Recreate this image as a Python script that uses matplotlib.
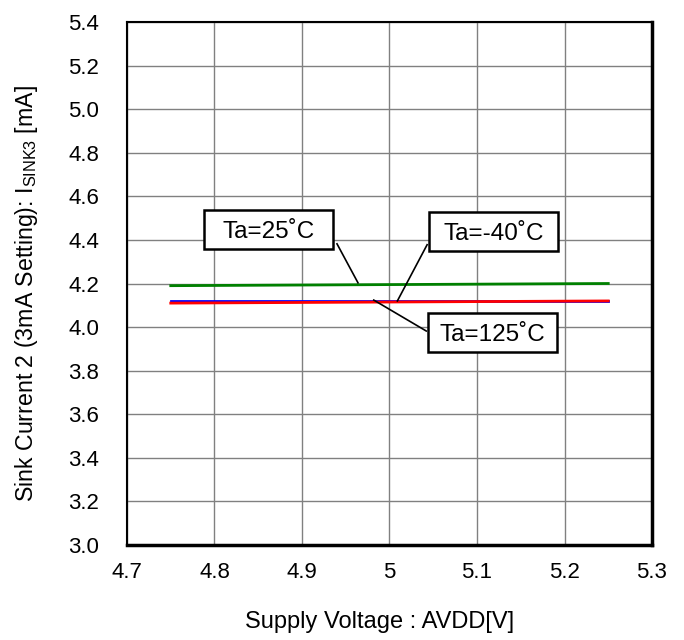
import matplotlib
matplotlib.use("Agg")
import matplotlib.pyplot as plt
from matplotlib.patches import Rectangle

plt.rcParams['font.family'] = ['Liberation Sans', 'DejaVu Sans']

voltage = [4.75, 5.25]
i_25 = [4.19, 4.20]
i_m40 = [4.12, 4.12]
i_125 = [4.11, 4.12]

x_ticks = [4.7, 4.8, 4.9, 5.0, 5.1, 5.2, 5.3]
x_ticklabels = ["4.7", "4.8", "4.9", "5", "5.1", "5.2", "5.3"]
y_ticks = [3.0, 3.2, 3.4, 3.6, 3.8, 4.0, 4.2, 4.4, 4.6, 4.8, 5.0, 5.2, 5.4]

fig = plt.figure(figsize=(6.84, 6.4), dpi=100)
ax = fig.add_axes([127/684, 1 - 545/640, (652-127)/684, (545-22)/640])

ax.plot(voltage, i_m40, color='#0000ff', lw=2, zorder=3)
ax.plot(voltage, i_125, color='#ff0000', lw=2, zorder=4)
ax.plot(voltage, i_25, color='#008000', lw=2, zorder=3)

ax.set_xlim(4.7, 5.3)
ax.set_ylim(3.0, 5.4)
ax.set_xticks(x_ticks)
ax.set_xticklabels(x_ticklabels)
ax.set_yticks(y_ticks)
ax.set_yticklabels([f"{v:.1f}" for v in y_ticks])
ax.tick_params(length=0, labelsize=16)
ax.tick_params(axis='y', pad=20)
ax.tick_params(axis='x', pad=12)
ax.grid(True, color='#808080', lw=1)
ax.set_axisbelow(True)
for s in ['left', 'top']:
    ax.spines[s].set_linewidth(1.5)
for s in ['right', 'bottom']:
    ax.spines[s].set_linewidth(2.5)

ax.set_xlabel("Supply Voltage : AVDD[V]", fontsize=17)
ax.xaxis.set_label_coords(0.482, -0.126)
ax.set_ylabel(r"Sink Current 2 (3mA Setting): I$_{\mathregular{SINK3}}$ [mA]", fontsize=16.7)
ax.yaxis.set_label_coords(-0.166, 0.48)

# annotation boxes: label, leader tip, box centre, leader start
box_w, box_h = 0.1474, 0.1797
ann = [
    ("Ta=25˚C", (4.964, 4.203), (4.862, 4.449), (4.94, 4.382)),
    ("Ta=-40˚C", (5.009, 4.12), (5.119, 4.437), (5.043, 4.378)),
    ("Ta=125˚C", (4.982, 4.124), (5.118, 3.977), (5.042, 3.982)),
]
for txt, tip, center, start in ann:
    ax.plot([start[0], tip[0]], [start[1], tip[1]], color='black', lw=1.2, zorder=5)
    ax.add_patch(Rectangle((center[0] - box_w/2, center[1] - box_h/2), box_w, box_h,
                           fc='white', ec='black', lw=1.8, zorder=6))
    ax.text(center[0], center[1], txt, fontsize=17.5, ha='center', va='center_baseline', zorder=7)

fig.savefig("out.png", dpi=100)
